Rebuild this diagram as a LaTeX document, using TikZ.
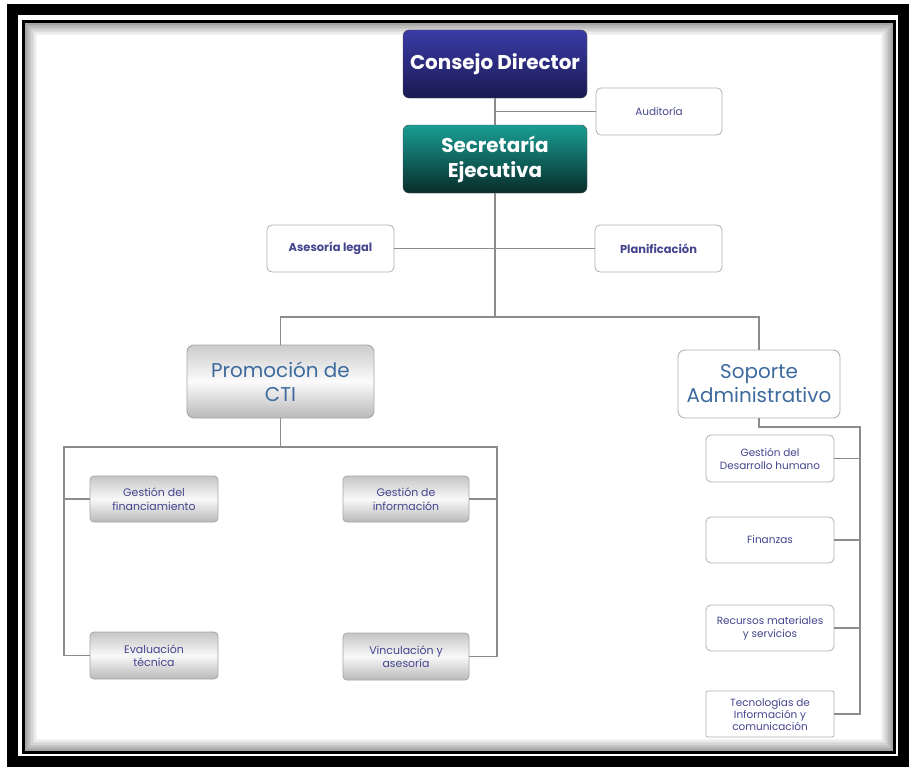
\documentclass[tikz,border=0pt]{standalone}
\usepackage{fontspec}
\setmainfont{Poppins}
\usepackage{tikz}

\definecolor{navytop}{HTML}{3B3BA6}
\definecolor{navybot}{HTML}{1A1A52}
\definecolor{tealtop}{HTML}{1A9E94}
\definecolor{tealbot}{HTML}{082C2A}
\definecolor{boxtext}{HTML}{45458F}
\definecolor{bigtext}{HTML}{3C6A9E}
\definecolor{linegray}{HTML}{8C8C8C}

\begin{document}
\begin{tikzpicture}[x=1bp,y=-1bp]
        \tikzstyle{every node}+=[inner sep=0pt, align=center]
        \tikzstyle{conn}=[draw=linegray, line width=1.1pt]
        \tikzstyle{topbox}=[rounded corners=6pt, draw=black!70, text=white,
          font=\bfseries\fontsize{20}{25}\selectfont]
        \tikzstyle{navybox}=[topbox, top color=navytop, bottom color=navybot]
        \tikzstyle{tealbox}=[topbox, top color=tealtop, bottom color=tealbot]
        \tikzstyle{whitebox}=[rounded corners=5pt, draw=gray!60, line width=0.8pt,
          fill=white, text=boxtext, font=\fontsize{10.5}{13}\selectfont]
        \tikzstyle{silverbox}=[rounded corners=4pt, draw=gray!70, line width=0.8pt,
          top color=gray!45, bottom color=gray!55, middle color=gray!5,
          text=boxtext, font=\fontsize{11}{13.5}\selectfont]
        \tikzstyle{bigbox}=[rounded corners=7pt, line width=0.9pt,
          text=bigtext, font=\fontsize{20}{24}\selectfont]
        % frame
        \fill [white] (0,0) rectangle (909,772);
        \draw [black, line width=11pt] (12.5,9.5) rectangle (903.5,761.5);
        \draw [black, line width=3pt] (23.5,21.5) rectangle (894,752);
        \foreach \i in {0,...,7}
          \draw [gray!\the\numexpr 70-\i*9\relax, line width=1.5pt]
            (26+1.5*\i,24+1.5*\i) rectangle (892-1.5*\i,750-1.5*\i);
        % boxes
        \node [navybox, minimum width=184bp, minimum height=68bp] (cd) at (495,64) {Consejo Director};
        \node [whitebox, minimum width=126bp, minimum height=47bp] (aud) at (659,111.5) {Auditoría};
        \node [tealbox, minimum width=184bp, minimum height=68bp] (se) at (495,159) {Secretaría\\Ejecutiva};
        \node [whitebox, minimum width=127bp, minimum height=47bp, font=\bfseries\fontsize{11.5}{13}\selectfont] (ase) at (330.5,248.5) {Asesoría legal};
        \node [whitebox, minimum width=127bp, minimum height=47bp, font=\bfseries\fontsize{11.5}{13}\selectfont] (pla) at (658.5,248.5) {Planificación};
        \node [bigbox, draw=gray!70, top color=gray!40, bottom color=gray!55, middle color=gray!3,
          minimum width=187bp, minimum height=73bp] (pro) at (280.5,381.5) {Promoción de\\CTI};
        \node [bigbox, draw=gray!60, fill=white, minimum width=162bp, minimum height=68bp] (sop) at (759,384) {Soporte\\Administrativo};
        \node [silverbox, minimum width=128bp, minimum height=46bp] (gfin) at (154,499) {Gestión del\\financiamiento};
        \node [silverbox, minimum width=126bp, minimum height=46bp] (ginf) at (406,499) {Gestión de\\información};
        \node [silverbox, minimum width=128bp, minimum height=47bp] (eva) at (154,655.5) {Evaluación\\técnica};
        \node [silverbox, minimum width=126bp, minimum height=47bp] (vin) at (406,656.5) {Vinculación y\\asesoría};
        \node [whitebox, minimum width=128bp, minimum height=47bp] (gdh) at (770,458.5) {Gestión del\\Desarrollo humano};
        \node [whitebox, minimum width=128bp, minimum height=46bp] (fin) at (770,540) {Finanzas};
        \node [whitebox, minimum width=128bp, minimum height=46bp] (rec) at (770,628) {Recursos materiales\\y servicios};
        \node [whitebox, rounded corners=2pt, minimum width=128bp, minimum height=46bp,
          font=\fontsize{10.5}{12}\selectfont] (tec) at (770,714) {Tecnologías de\\Información y\\comunicación};
        % junctions
        \coordinate (split) at (495,317);
        \coordinate (pl) at (64,447);
        \coordinate (pr) at (497,447);
        \coordinate (sr) at (860,427);
        % connectors
        \draw [conn] (cd) -- (se);
        \draw [conn] (aud.west) -- (aud.west -| cd.south);
        \draw [conn] (se) -- (split);
        \draw [conn] (ase.east) -- (pla.west);
        \draw [conn] (pro.north) |- (split) -| (sop.north);
        \draw [conn] (pro.south) -- (pro.south |- pl);
        \draw [conn] (eva.west) -| (pl) -- (pr) |- (vin.east);
        \draw [conn] (gfin.west) -- (gfin.west -| pl);
        \draw [conn] (ginf.east) -- (ginf.east -| pr);
        \draw [conn] (sop.south) |- (sr) |- (tec.east);
        \draw [conn] (gdh.east) -- (gdh.east -| sr);
        \draw [conn] (fin.east) -- (fin.east -| sr);
        \draw [conn] (rec.east) -- (rec.east -| sr);
\end{tikzpicture}
\end{document}
